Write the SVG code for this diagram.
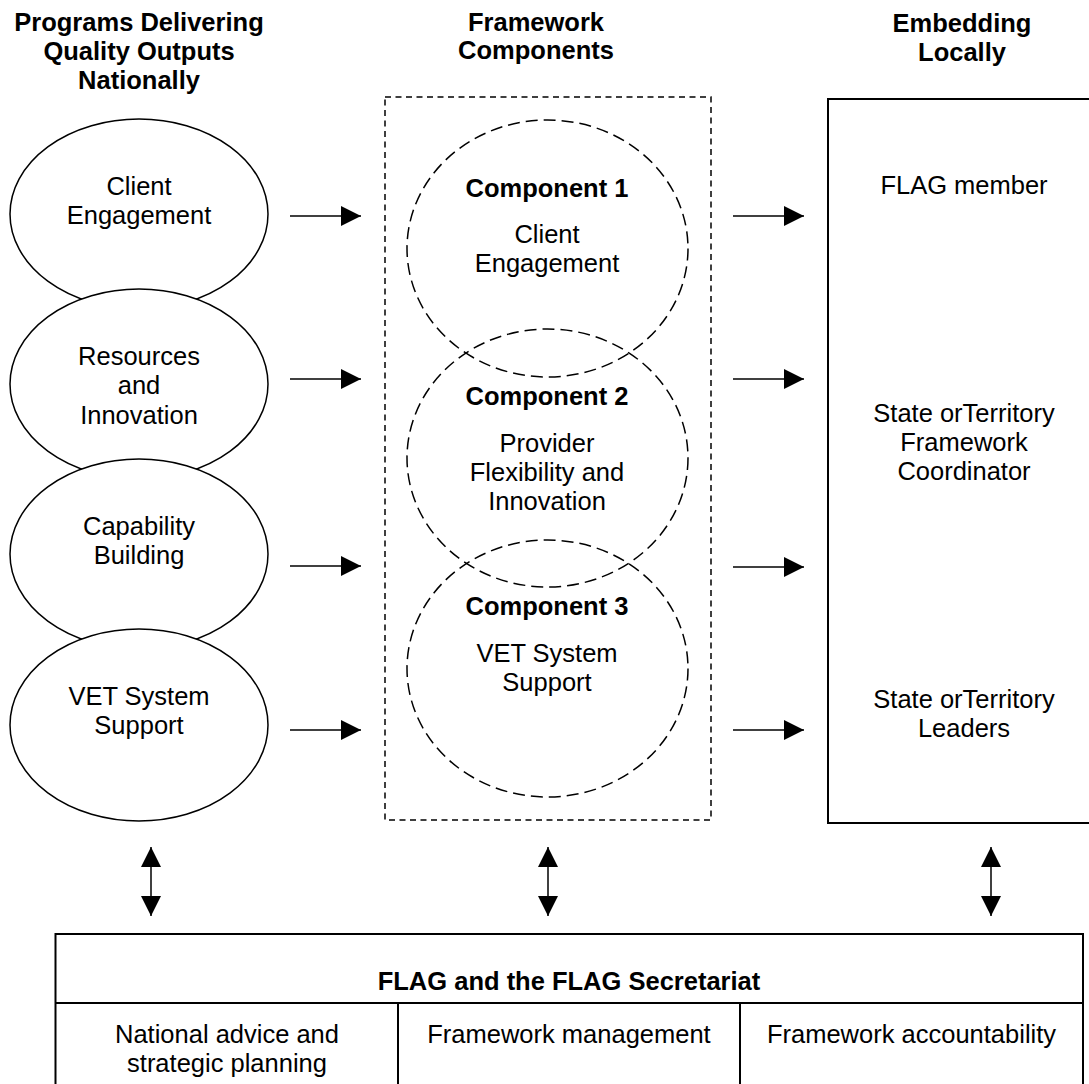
<svg xmlns="http://www.w3.org/2000/svg" width="1089" height="1084" viewBox="0 0 1089 1084">
<style>
text{font-family:"Liberation Sans",Arial,sans-serif;font-size:25.5px;fill:#000;text-anchor:middle}
.b{font-weight:bold}
.prog{fill:#fff;stroke:#000;stroke-width:1.5}
.comp{fill:none;stroke:#000;stroke-width:1.5;stroke-dasharray:12 6}
.frame{fill:none;stroke:#000;stroke-width:1.5;stroke-dasharray:6 4.5}
.box{fill:none;stroke:#000;stroke-width:2}
.conn{stroke:#000;stroke-width:1.5;fill:none}
</style>
<defs>
<marker id="ah" viewBox="0 0 20 20" markerWidth="20" markerHeight="20" refX="20" refY="10" orient="auto-start-reverse" markerUnits="userSpaceOnUse">
<path d="M0,0 L20,10 L0,20 Z" fill="#000"/>
</marker>
</defs>
<rect width="1089" height="1084" fill="#fff"/>

<g id="headers">
<text class="b" x="139" y="31">Programs Delivering</text>
<text class="b" x="139" y="60">Quality Outputs</text>
<text class="b" x="139" y="89">Nationally</text>
<text class="b" x="536" y="31">Framework</text>
<text class="b" x="536" y="59">Components</text>
<text class="b" x="962" y="32">Embedding</text>
<text class="b" x="962" y="61">Locally</text>
</g>

<g id="prog1"><ellipse class="prog" cx="139" cy="214" rx="129" ry="95"/>
<text x="139" y="195">Client</text><text x="139" y="224">Engagement</text></g>
<g id="prog2"><ellipse class="prog" cx="139" cy="384" rx="129" ry="95"/>
<text x="139" y="365">Resources</text><text x="139" y="394">and</text><text x="139" y="424">Innovation</text></g>
<g id="prog3"><ellipse class="prog" cx="139" cy="554" rx="129" ry="95"/>
<text x="139" y="535">Capability</text><text x="139" y="564">Building</text></g>
<g id="prog4"><ellipse class="prog" cx="139" cy="725" rx="129" ry="96"/>
<text x="139" y="705">VET System</text><text x="139" y="734">Support</text></g>

<g id="framework"><rect class="frame" x="385" y="97" width="326" height="723"/></g>
<g id="comp1"><ellipse class="comp" cx="547.5" cy="248.5" rx="140.5" ry="128.5"/>
<text class="b" x="547" y="197">Component 1</text>
<text x="547" y="243">Client</text><text x="547" y="272">Engagement</text></g>
<g id="comp2"><ellipse class="comp" cx="547.5" cy="458" rx="140.5" ry="129"/>
<text class="b" x="547" y="405">Component 2</text>
<text x="547" y="452">Provider</text><text x="547" y="481">Flexibility and</text><text x="547" y="510">Innovation</text></g>
<g id="comp3"><ellipse class="comp" cx="547.5" cy="668.5" rx="140.5" ry="128.5"/>
<text class="b" x="547" y="615">Component 3</text>
<text x="547" y="662">VET System</text><text x="547" y="691">Support</text></g>

<g id="local"><rect class="box" x="828" y="99" width="270" height="724"/>
<text x="964" y="194">FLAG member</text>
<text x="964" y="422">State orTerritory</text><text x="964" y="451">Framework</text><text x="964" y="480">Coordinator</text>
<text x="964" y="708">State orTerritory</text><text x="964" y="737">Leaders</text></g>

<g id="flag">
<rect class="box" x="55.5" y="934" width="1027.5" height="160"/>
<line class="box" x1="55.5" y1="1003" x2="1083" y2="1003"/>
<line class="box" x1="398" y1="1003" x2="398" y2="1094"/>
<line class="box" x1="740" y1="1003" x2="740" y2="1094"/>
<text class="b" x="569" y="990">FLAG and the FLAG Secretariat</text>
<text x="227" y="1043">National advice and</text><text x="227" y="1072">strategic planning</text>
<text x="569" y="1043">Framework management</text>
<text x="911.5" y="1043">Framework accountability</text>
</g>

<g id="connectors">
<line class="conn" x1="290" y1="216" x2="361" y2="216" marker-end="url(#ah)"/>
<line class="conn" x1="290" y1="379" x2="361" y2="379" marker-end="url(#ah)"/>
<line class="conn" x1="290" y1="566" x2="361" y2="566" marker-end="url(#ah)"/>
<line class="conn" x1="290" y1="730" x2="361" y2="730" marker-end="url(#ah)"/>
<line class="conn" x1="733" y1="216" x2="804" y2="216" marker-end="url(#ah)"/>
<line class="conn" x1="733" y1="379" x2="804" y2="379" marker-end="url(#ah)"/>
<line class="conn" x1="733" y1="567" x2="804" y2="567" marker-end="url(#ah)"/>
<line class="conn" x1="733" y1="730" x2="804" y2="730" marker-end="url(#ah)"/>
<line class="conn" x1="151" y1="847" x2="151" y2="916" marker-start="url(#ah)" marker-end="url(#ah)"/>
<line class="conn" x1="548" y1="847" x2="548" y2="916" marker-start="url(#ah)" marker-end="url(#ah)"/>
<line class="conn" x1="991" y1="847" x2="991" y2="916" marker-start="url(#ah)" marker-end="url(#ah)"/>
</g>
</svg>
